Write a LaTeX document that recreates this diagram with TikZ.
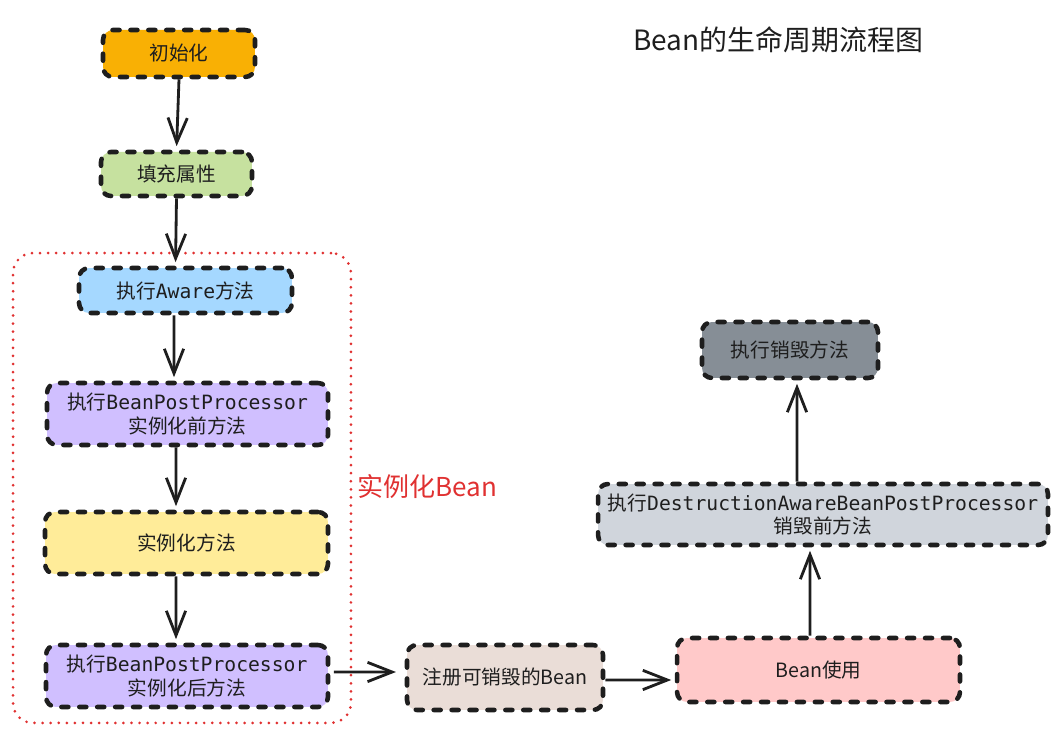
\documentclass[tikz,border=0pt]{standalone}
\usepackage{fontspec}
\setmainfont{Noto Sans CJK SC}
\newfontfamily\mymono{DejaVu Sans Mono}
\usetikzlibrary{arrows.meta}
\definecolor{ink}{HTML}{1E1E1E}
\definecolor{cinit}{HTML}{F9B004}
\definecolor{cfill}{HTML}{C6E19F}
\definecolor{caware}{HTML}{A5D8FF}
\definecolor{cbpp}{HTML}{D0BFFF}
\definecolor{cinst}{HTML}{FFEC99}
\definecolor{creg}{HTML}{EADDD7}
\definecolor{cuse}{HTML}{FFC9C9}
\definecolor{cdestr}{HTML}{D0D5DC}
\definecolor{cdestroy}{HTML}{868E96}
\definecolor{cred}{HTML}{E03131}
\tikzset{
  stepbox/.style={draw=ink, line width=2.6pt, dash pattern=on 4pt off 6.2pt, line cap=round,
    rounded corners=0.2cm, inner sep=0pt, align=center, text=ink,
    font=\fontsize{11.2}{13.6}\selectfont},
  arr/.style={draw=ink, line width=1.6pt, -{Straight Barb[length=14pt,width=11pt,line width=1.6pt]}, shorten >=2pt},
  groupbox/.style={draw=cred, line width=1.7pt, dash pattern=on 0pt off 4.6pt, line cap=round,
    rounded corners=0.4cm, inner sep=0pt}
}
\begin{document}
\begin{tikzpicture}[x=0.02cm,y=-0.02cm]
\useasboundingbox (0,0) rectangle (1064,732);
% group
\node[groupbox, minimum width=6.76cm, minimum height=9.4cm] (group) at (182,488) {};
\node[anchor=west, text=cred, inner sep=0pt, font=\fontsize{14.8}{16}\selectfont] (glabel) at (357,487) {实例化Bean};
% title
\node[anchor=west, text=ink, inner sep=0pt, font=\fontsize{15.9}{18}\selectfont] (title) at (633,40) {Bean的生命周期流程图};
% nodes
\node[stepbox, fill=cinit, minimum width=3.04cm, minimum height=0.94cm] (init) at (179,53.5) {初始化};
\node[stepbox, fill=cfill, minimum width=3.02cm, minimum height=0.88cm] (fill) at (176.5,174) {填充属性};
\node[stepbox, fill=caware, minimum width=4.26cm, minimum height=0.9cm] (aware) at (185.5,290.5) {执行{\mymono Aware}方法};
\node[stepbox, fill=cbpp, minimum width=5.62cm, minimum height=1.24cm] (bpp1) at (187.5,414) {执行{\mymono BeanPostProcessor}\\实例化前方法};
\node[stepbox, fill=cinst, minimum width=5.66cm, minimum height=1.24cm] (inst) at (186.5,543) {实例化方法};
\node[stepbox, fill=cbpp, minimum width=5.64cm, minimum height=1.24cm] (bpp2) at (187,676) {执行{\mymono BeanPostProcessor}\\实例化后方法};
\node[stepbox, fill=creg, minimum width=3.92cm, minimum height=1.3cm] (reg) at (505,677.5) {注册可销毁的Bean};
\node[stepbox, fill=cuse, minimum width=5.66cm, minimum height=1.28cm] (use) at (818.5,670) {Bean使用};
\node[stepbox, fill=cdestr, minimum width=9.0cm, minimum height=1.22cm] (destr) at (823,514.5) {执行{\mymono DestructionAwareBeanPostProcessor}\\销毁前方法};
\node[stepbox, fill=cdestroy, minimum width=3.52cm, minimum height=1.12cm] (destroy) at (790,350) {执行销毁方法};
% arrows
\draw[arr] (init.south) -- (fill.north);
\draw[arr] (fill.south) -- ([xshift=-0.2cm]aware.north);
\draw[arr] ([xshift=-0.23cm]aware.south) -- ([xshift=-0.27cm]bpp1.north);
\draw[arr] ([xshift=-0.23cm]bpp1.south) -- ([xshift=-0.21cm]inst.north);
\draw[arr] ([xshift=-0.21cm]inst.south) -- ([xshift=-0.22cm]bpp2.north);
\draw[arr, shorten >=5pt] ([yshift=0.08cm,xshift=2pt]bpp2.east) -- ([yshift=0.11cm]reg.west);
\draw[arr] ([yshift=-0.05cm]reg.east) -- ([yshift=-0.2cm]use.west);
\draw[arr] ([xshift=-0.17cm]use.north) -- ([xshift=-0.26cm]destr.south);
\draw[arr] ([xshift=-0.52cm]destr.north) -- ([xshift=0.14cm]destroy.south);
\end{tikzpicture}
\end{document}
